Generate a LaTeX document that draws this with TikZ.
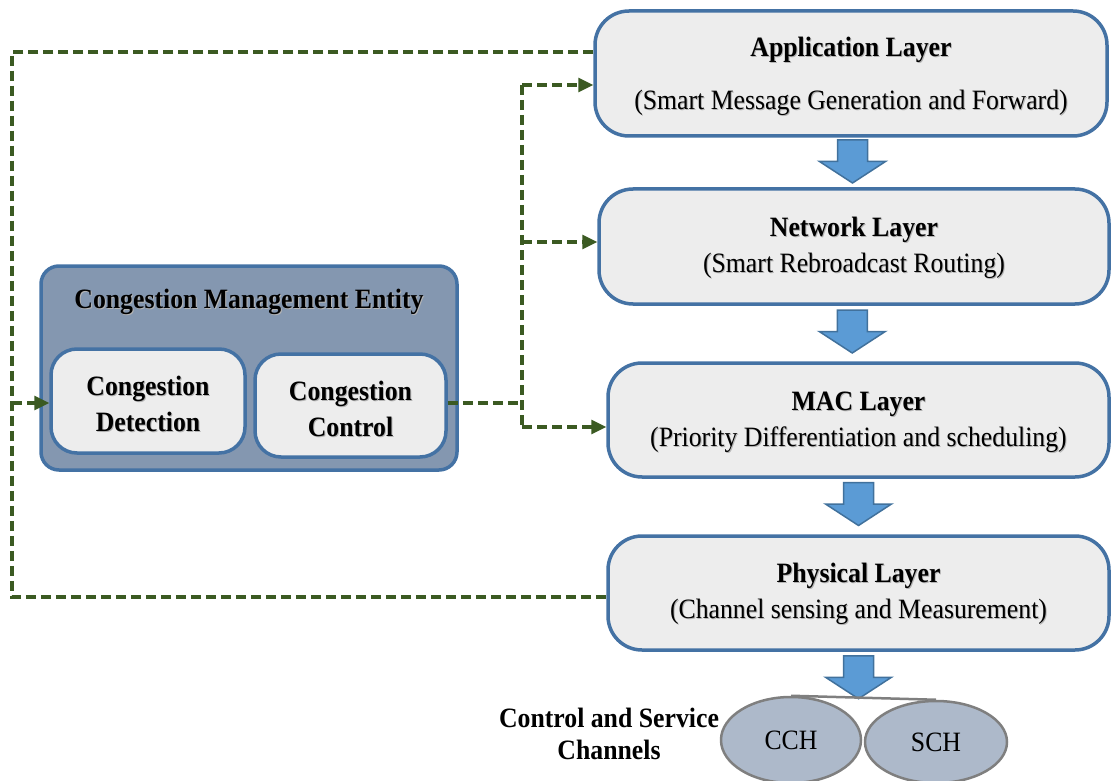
\documentclass[tikz,border=0pt]{standalone}
\usepackage{fontspec}
\setmainfont[FakeStretch=0.92]{Liberation Serif}
\usetikzlibrary{shapes.geometric,arrows.meta,calc}

\definecolor{boxfill}{HTML}{EDEDED}
\definecolor{boxline}{HTML}{4472A4}
\definecolor{cmefill}{HTML}{8497B0}
\definecolor{arrowfill}{HTML}{5B9BD5}
\definecolor{arrowline}{HTML}{41719C}
\definecolor{chanfill}{HTML}{ADB9CA}
\definecolor{chanline}{HTML}{7F7F7F}
\definecolor{linkgreen}{HTML}{3B5A22}
\definecolor{txtshadow}{HTML}{B4B4B4}

% text with a soft drop shadow
\newcommand\shd[1]{\leavevmode\rlap{\hspace{1pt}\raisebox{-1pt}{\textcolor{txtshadow}{#1}}}#1}

\tikzset{
  boxframe/.style={draw=boxline, fill=boxfill, line width=3.5pt, inner sep=0pt},
  layerbox/.style={boxframe, rounded corners=34pt},
  subbox/.style={boxframe, rounded corners=26pt},
  boxtext/.style={align=center, inner sep=0pt, font=\fontsize{28}{36}\selectfont},
  cmebox/.style={draw=boxline, fill=cmefill, line width=3.5pt, rounded corners=18pt,
    inner sep=0pt},
  channel/.style={ellipse, draw=chanline, fill=chanfill, line width=2.5pt, inner sep=0pt,
    font=\fontsize{28}{30}\selectfont},
  plain/.style={align=center, inner sep=0pt, font=\fontsize{28}{32}\selectfont\bfseries},
  link/.style={draw=linkgreen, line width=3.2pt, dash pattern=on 10pt off 5pt},
  linkarrow/.style={link, -{Triangle[length=15pt,width=14pt]}},
  blockarrow/.style={draw=arrowline, fill=arrowfill, line width=1.5pt, line join=miter},
  pics/downarrow/.style={code={
    \path[blockarrow] (-15,-21.5) -- (15,-21.5) -- (15,0) -- (33,0) -- (0,21.5)
      -- (-33,0) -- (-15,0) -- cycle;}}
}

\begin{document}
\begin{tikzpicture}[x=1pt,y=-1pt]
\useasboundingbox (0,0) rectangle (1112,781);

% protocol stack
\node[layerbox, minimum width=512pt, minimum height=125pt] (app) at (851,73.5) {};
\node[boxtext] (apptxt) at ($(app.center)+(0,3.5)$)
  {\shd{\textbf{Application Layer}}\\[17pt]\shd{(Smart Message Generation and Forward)}};
\node[layerbox, minimum width=510pt, minimum height=115pt] (net) at (854,246.5) {};
\node[boxtext] (nettxt) at ($(net.center)+(0,2)$)
  {\shd{\textbf{Network Layer}}\\\shd{(Smart Rebroadcast Routing)}};
\node[layerbox, minimum width=501pt, minimum height=114pt] (mac) at (858.5,420) {};
\node[boxtext] (mactxt) at ($(mac.center)+(0,3)$)
  {\shd{\textbf{MAC Layer}}\\\shd{(Priority Differentiation and scheduling)}};
\node[layerbox, minimum width=501pt, minimum height=114pt] (phy) at (858.5,593) {};
\node[boxtext] (phytxt) at ($(phy.center)+(0,1.5)$)
  {\shd{\textbf{Physical Layer}}\\\shd{(Channel sensing and Measurement)}};

% flow between layers
\pic at ($(app.south)!0.5!(net.north)+(0,-1)$) {downarrow};
\pic at ($(net.south)!0.5!(mac.north)+(-4,-2)$) {downarrow};
\pic at ($(mac.south)!0.5!(phy.north)+(0,-2.5)$) {downarrow};
\pic at ($(phy.south)+(0,25.5)$) {downarrow};

% channels
\node[channel, minimum width=140pt, minimum height=86pt] (cch) at (791,740) {CCH};
\node[channel, minimum width=142pt, minimum height=82pt] (sch) at (936,742) {SCH};
\draw[chanline, line width=2.5pt] (cch.north) -- (sch.north);
\node[plain] (chlabel) at (609,734) {Control and Service\\Channels};

% congestion management entity
\node[cmebox, minimum width=416pt, minimum height=204pt] (cme) at (249,368) {};
\node[plain] (cmetitle) at (249,302.5) {\shd{Congestion Management Entity}};
\node[subbox, minimum width=194pt, minimum height=104pt] (det) at (148,401) {};
\node[boxtext, font=\fontsize{28}{36}\selectfont\bfseries] (dettxt) at ($(det.center)+(0,3.5)$)
  {\shd{Congestion}\\\shd{Detection}};
\node[subbox, minimum width=191pt, minimum height=103pt] (ctl) at (350.5,405.5) {};
\node[boxtext, font=\fontsize{28}{36}\selectfont\bfseries] (ctltxt) at ($(ctl.center)+(0,3.5)$)
  {\shd{Congestion}\\\shd{Control}};

% feedback from the application and physical layers
\coordinate (fbtop) at (12,52);
\coordinate (fbbot) at (12,597);
\coordinate (fbin) at (12,403);
\draw[link] (app.west|-fbtop) -- (fbtop) -- (fbbot) -- (phy.west|-fbbot);
\draw[linkarrow] (fbin) -- (fbin-|det.west);

% control actions to the upper layers
\coordinate (jn) at (522,403);
\coordinate (jtop) at (522,85);
\coordinate (jnet) at (522,242);
\coordinate (jmac) at (522,427);
\draw[link] (ctl.east|-jn) -- (jn);
\draw[link] (jtop) -- (jmac);
\draw[linkarrow] (jtop) -- (jtop-|app.west);
\draw[linkarrow] (jnet) -- (jnet-|net.west);
\draw[linkarrow] (jmac) -- (jmac-|mac.west);
\end{tikzpicture}
\end{document}
